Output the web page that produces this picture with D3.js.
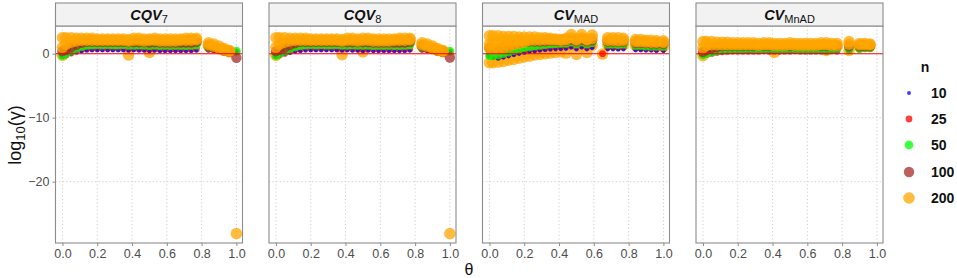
<!DOCTYPE html>
<html><head><meta charset="utf-8">
<script src="https://cdn.jsdelivr.net/npm/d3@7"></script>
<style>
body{margin:0;background:#fff;}
text{font-family:"Liberation Sans",Arial,sans-serif;}
</style></head>
<body><svg id="chart" width="957" height="278"></svg>
<script>
// ---- data ----
const thetas = [0, 0.02, 0.05, 0.08, 0.11, 0.14, 0.17, 0.2, 0.23, 0.26, 0.29, 0.32, 0.35, 0.38, 0.41, 0.44, 0.47, 0.5, 0.53, 0.56, 0.59, 0.62, 0.65, 0.68, 0.71, 0.74, 0.77, 0.8, 0.84, 0.87, 0.9, 0.93, 0.96, 1.0];
const nLevels = ["10", "25", "50", "100", "200"];
const xTicks = [0, 0.2, 0.4, 0.6, 0.8, 1.0];
const yTicks = [-20, -10, 0];

// CQV7
const cqv7_n200_hi  = [2.5, 2.5, 2.5, 2.4, 2.4, 2.4, 2.4, 2.3, 2.3, 2.3, 2.3, 2.3, 2.3, 2.2, 2.4, 2.4, 2.3, 2.3, 2.4, 2.3, 2.3, 2.3, 2.3, 2.3, 2.4, 2.4, 2.4, null, 1.7, 1.5, 1.2, 0.8, 0.5, null];
const cqv7_n200_mid = [1.0, 1.5, 1.8, 2.0, 2.1, 2.1, 2.1, 2.1, 2.1, 2.1, 2.1, 2.1, 2.1, 2.0, 2.1, 2.1, 2.0, 2.1, 2.1, 2.0, 2.0, 2.0, 2.0, 2.1, 2.1, 2.1, 2.2, null, 1.4, 1.2, 0.9, 0.6, 0.4, null];
const cqv7_n200_low = [-0.25, 0.5, 1.0, 1.4, 1.7, 1.9, 1.9, 1.9, 1.9, 1.9, 1.9, 1.9, 1.9, -0.2, 1.9, 1.8, 1.8, 0.2, 1.5, 1.8, 1.8, 1.8, 1.8, 1.8, 1.8, 1.8, 1.9, null, 1.2, 1.0, 0.8, 0.5, 0.3, -28.1];
const cqv7_n100 = [0.4, 0.6, 1.0, 1.4, 1.7, 1.85, 1.85, 1.85, 1.85, 1.85, 1.85, 1.85, 1.85, 1.8, 1.8, 1.8, 1.8, 1.75, 1.8, 1.75, 1.75, 1.75, 1.75, 1.75, 1.75, 1.75, 1.85, null, 1.2, 1.0, 0.8, 0.5, 0.3, -0.65];
const cqv7_n50  = [-0.3, 0.0, 0.4, 0.8, 1.1, 1.3, 1.35, 1.4, 1.35, 1.4, 1.35, 1.35, 1.4, 1.3, 1.3, 1.35, 1.3, 1.25, 1.3, 1.25, 1.3, 1.25, 1.3, 1.25, 1.25, 1.3, 1.35, null, 1.0, 0.9, 0.7, 0.5, 0.4, 0.4];
const cqv7_n25  = [-0.3, -0.2, 0.1, 0.4, 0.65, 0.75, 0.8, 0.8, 0.8, 0.8, 0.8, 0.8, 0.8, 0.75, 0.8, 0.75, 0.75, 0.7, 0.75, 0.7, 0.7, 0.7, 0.7, 0.7, 0.7, 0.7, 0.75, null, 0.7, 0.6, 0.5, 0.4, 0.3, 0.3];
const cqv7_n10  = [-0.3, -0.2, 0.0, 0.2, 0.35, 0.45, 0.5, 0.5, 0.5, 0.5, 0.5, 0.5, 0.5, 0.45, 0.5, 0.45, 0.45, 0.4, 0.45, 0.4, 0.4, 0.4, 0.4, 0.4, 0.4, 0.4, 0.45, null, 0.5, 0.45, 0.4, 0.35, 0.3, 0.3];

// CQV8
const cqv8_n200_hi  = [2.5, 2.5, 2.5, 2.4, 2.4, 2.4, 2.4, 2.3, 2.3, 2.3, 2.3, 2.3, 2.3, 2.2, 2.4, 2.4, 2.3, 2.4, 2.4, 2.3, 2.3, 2.3, 2.3, 2.3, 2.4, 2.4, 2.4, null, 1.7, 1.5, 1.2, 0.8, 0.5, null];
const cqv8_n200_mid = [1.0, 1.5, 1.8, 2.0, 2.1, 2.1, 2.1, 2.1, 2.1, 2.1, 2.1, 2.1, 2.1, 2.0, 2.1, 2.1, 2.0, 2.1, 2.1, 2.0, 2.0, 2.0, 2.0, 2.1, 2.1, 2.1, 2.2, null, 1.4, 1.2, 0.9, 0.6, 0.4, null];
const cqv8_n200_low = [-0.25, 0.5, 0.9, 1.3, 1.6, 1.9, 1.9, 1.9, 1.9, 1.9, 1.9, 1.9, 1.9, -0.15, 1.9, 1.8, 1.8, 0.3, 1.6, 1.8, 1.8, 1.8, 1.8, 1.8, 1.8, 1.8, 1.9, null, 1.2, 1.0, 0.8, 0.5, 0.3, -28.1];
const cqv8_n100 = [0.4, 0.6, 0.95, 1.35, 1.65, 1.85, 1.85, 1.85, 1.85, 1.85, 1.85, 1.85, 1.85, 1.8, 1.8, 1.8, 1.8, 1.8, 1.8, 1.75, 1.75, 1.75, 1.75, 1.75, 1.75, 1.75, 1.85, null, 1.2, 1.0, 0.8, 0.5, 0.3, -0.6];
const cqv8_n50  = [-0.3, 0.0, 0.35, 0.75, 1.05, 1.25, 1.35, 1.4, 1.35, 1.4, 1.35, 1.35, 1.4, 1.3, 1.3, 1.35, 1.3, 1.3, 1.3, 1.25, 1.3, 1.25, 1.3, 1.25, 1.25, 1.3, 1.35, null, 1.0, 0.9, 0.7, 0.5, 0.4, 0.4];
const cqv8_n25  = [-0.3, -0.2, 0.05, 0.35, 0.6, 0.7, 0.8, 0.8, 0.8, 0.8, 0.8, 0.8, 0.8, 0.75, 0.8, 0.75, 0.75, 0.7, 0.75, 0.7, 0.7, 0.7, 0.7, 0.7, 0.7, 0.7, 0.75, null, 0.7, 0.6, 0.5, 0.4, 0.3, 0.3];
const cqv8_n10  = [-0.3, -0.2, -0.05, 0.15, 0.3, 0.4, 0.45, 0.5, 0.5, 0.5, 0.5, 0.5, 0.5, 0.45, 0.5, 0.45, 0.45, 0.4, 0.45, 0.4, 0.4, 0.4, 0.4, 0.4, 0.4, 0.4, 0.45, null, 0.5, 0.45, 0.4, 0.35, 0.3, 0.3];

// CV_MAD
const cvmad_n200_hi   = [2.8, 2.8, 2.8, 2.7, 2.7, 2.7, 2.6, 2.6, 2.6, 2.6, 2.5, 2.5, 2.4, 2.3, 2.2, 2.4, 3.0, 2.3, 3.0, 2.3, 2.9, null, null, 2.5, 2.5, 2.5, 2.4, null, 2.2, 2.2, 2.1, 2.1, 2.0, 2.0];
const cvmad_n200_mid  = [1.5, 1.7, 1.9, 2.0, 2.05, 2.1, 2.1, 2.1, 2.1, 2.15, 2.15, 2.2, 2.2, 2.2, 2.15, 2.2, 2.5, 2.15, 2.5, 2.15, 2.4, null, null, 2.1, 2.1, 2.05, 2.1, null, 1.9, 1.9, 1.85, 1.8, 1.8, 1.75];
const cvmad_n200_low2 = [0.9, 0.7, 0.8, 1.0, 1.2, 1.45, 1.65, 1.85, null, null, null, null, null, null, null, null, null, null, null, null, null, null, null, null, null, null, null, null, null, null, null, null, null, null];
const cvmad_n200_low  = [-1.4, -1.4, -1.3, -1.2, -1.0, -0.9, -0.7, -0.5, -0.4, -0.2, -0.1, 0.0, 0.1, 0.2, 0.3, 0.1, 1.3, -0.1, 1.1, 0.2, 1.3, null, -0.05, 1.4, 1.4, 1.4, 1.4, null, 1.3, 1.3, 1.2, 1.2, 1.2, 1.1];
const cvmad_n100 = [0.9, 0.7, 0.8, 1.0, 1.2, 1.45, 1.65, 1.85, 1.9, 1.9, 1.9, 1.95, 2.0, 2.0, 2.0, 2.0, 2.2, 1.95, 2.2, 1.95, 2.1, null, null, 1.9, 1.9, 1.85, 1.9, null, 1.7, 1.7, 1.65, 1.6, 1.6, 1.55];
const cvmad_n50  = [-0.3, -0.3, -0.2, 0.0, 0.25, 0.5, 0.7, 0.9, 1.05, 1.2, 1.3, 1.4, 1.5, 1.55, 1.6, 1.6, 1.8, 1.5, 1.8, 1.5, 1.7, null, null, 1.45, 1.45, 1.4, 1.45, null, 1.25, 1.25, 1.2, 1.15, 1.15, 1.1];
const cvmad_n25  = [-0.3, -0.4, -0.5, -0.3, -0.1, 0.1, 0.3, 0.45, 0.6, 0.7, 0.8, 0.9, 0.95, 1.0, 1.05, 1.1, 1.3, 1.0, 1.3, 1.0, 1.2, null, 0.0, 1.0, 1.0, 0.95, 1.0, null, 0.85, 0.85, 0.8, 0.8, 0.75, 0.75];
const cvmad_n10  = [-0.3, -0.6, -0.8, -0.65, -0.45, -0.25, -0.05, 0.1, 0.25, 0.35, 0.45, 0.55, 0.6, 0.65, 0.7, 0.75, 0.95, 0.65, 0.95, 0.65, 0.85, null, null, 0.65, 0.65, 0.6, 0.65, null, 0.5, 0.5, 0.45, 0.45, 0.4, 0.4];

// CV_MnAD
const cvmnad_n200_hi  = [1.9, 1.9, 1.9, 1.8, 1.8, 1.8, 1.7, 1.7, 1.7, 1.7, 1.7, 1.6, 1.7, 1.7, 1.6, 1.6, 1.6, 1.7, 1.6, 1.6, 1.6, 1.6, 1.6, 1.7, 1.7, 1.6, 1.6, null, 1.9, null, 1.6, 1.6, 1.5, null];
const cvmnad_n200_mid = [0.9, 1.3, 1.4, 1.4, 1.4, 1.4, 1.4, 1.4, 1.4, 1.4, 1.4, 1.3, 1.4, 1.4, 1.3, 1.3, 1.3, 1.4, 1.3, 1.3, 1.3, 1.3, 1.3, 1.4, 1.4, 1.3, 1.3, null, 1.5, null, 1.4, 1.4, 1.4, null];
const cvmnad_n200_low = [-0.3, 0.3, 0.6, 0.9, 1.0, 1.1, 1.1, 1.15, 1.1, 1.1, 1.15, 1.1, 1.1, 1.1, 0.2, 1.1, 1.15, 1.1, 1.1, 1.15, 1.1, 1.1, 1.1, 1.0, 0.5, 1.1, 1.1, null, 0.5, null, 1.1, 1.2, 1.2, null];
const cvmnad_n100 = [0.3, 0.6, 0.85, 1.05, 1.2, 1.25, 1.25, 1.25, 1.25, 1.25, 1.25, 1.25, 1.25, 1.25, 1.25, 1.25, 1.25, 1.25, 1.25, 1.25, 1.25, 1.25, 1.25, 1.25, 1.25, 1.25, 1.25, null, 1.2, null, 1.2, 1.2, 1.2, null];
const cvmnad_n50  = [-0.2, 0.0, 0.25, 0.45, 0.6, 0.7, 0.75, 0.75, 0.75, 0.8, 0.75, 0.75, 0.75, 0.8, 0.75, 0.75, 0.75, 0.8, 0.75, 0.75, 0.75, 0.75, 0.75, 0.75, 0.75, 0.75, 0.8, null, 0.7, null, 0.8, 0.9, 0.9, null];
const cvmnad_n25  = [-0.2, -0.1, 0.05, 0.2, 0.3, 0.35, 0.4, 0.4, 0.4, 0.4, 0.4, 0.4, 0.45, 0.4, 0.4, 0.4, 0.4, 0.4, 0.45, 0.4, 0.4, 0.4, 0.4, 0.4, 0.4, 0.45, 0.4, null, 0.5, null, 0.7, 0.8, 0.8, null];
const cvmnad_n10  = [-0.15, -0.1, 0.0, 0.1, 0.2, 0.25, 0.3, 0.3, 0.3, 0.3, 0.3, 0.3, 0.3, 0.3, 0.3, 0.3, 0.3, 0.3, 0.3, 0.3, 0.3, 0.3, 0.3, 0.3, 0.3, 0.3, 0.3, null, 0.4, null, 0.6, 0.7, 0.7, null];

// draw order of series within each panel: [n, values]
const panels = [
  {main: "CQV", sub: "7", layers: [["200", cqv7_n200_low], ["25", cqv7_n25], ["10", cqv7_n10], ["50", cqv7_n50], ["100", cqv7_n100], ["200", cqv7_n200_mid], ["200", cqv7_n200_hi]]},
  {main: "CQV", sub: "8", layers: [["200", cqv8_n200_low], ["25", cqv8_n25], ["10", cqv8_n10], ["50", cqv8_n50], ["100", cqv8_n100], ["200", cqv8_n200_mid], ["200", cqv8_n200_hi]]},
  {main: "CV", sub: "MAD", layers: [["200", cvmad_n200_low], ["25", cvmad_n25], ["10", cvmad_n10], ["50", cvmad_n50], ["100", cvmad_n100], ["200", cvmad_n200_low2], ["200", cvmad_n200_mid], ["200", cvmad_n200_hi]]},
  {main: "CV", sub: "MnAD", layers: [["200", cvmnad_n200_low], ["25", cvmnad_n25], ["10", cvmnad_n10], ["50", cvmnad_n50], ["100", cvmnad_n100], ["200", cvmnad_n200_mid], ["200", cvmnad_n200_hi]]}
];

// ---- styles ----
const colors = {"10": "#0000FF", "25": "#FF0000", "50": "#00FF00", "100": "#A52A2A", "200": "#FFA500"};
const radius = d3.scaleOrdinal().domain(nLevels).range([2, 3.4, 4.4, 5.2, 5.8]);
const alpha = 0.75;

const svg = d3.select("#chart");
const panelW = 187, panelTop = 26, panelBot = 243, stripTop = 3;
const lefts = [55.5, 269, 482.5, 696];

const y = d3.scaleLinear().domain([-29.58, 4.33]).range([panelBot, panelTop]);

panels.forEach((p, pi) => {
  const L = lefts[pi];
  const x = d3.scaleLinear().domain([-0.04, 1.035]).range([L, L + panelW]);
  const g = svg.append("g");
  g.selectAll(".gx").data(xTicks).enter().append("line")
    .attr("x1", d => x(d)).attr("x2", d => x(d)).attr("y1", panelTop).attr("y2", panelBot)
    .attr("stroke", "#cfcfcf").attr("stroke-width", 1).attr("stroke-dasharray", "1.2,2.4");
  g.selectAll(".gy").data(yTicks).enter().append("line")
    .attr("x1", L).attr("x2", L + panelW).attr("y1", d => y(d)).attr("y2", d => y(d))
    .attr("stroke", "#cfcfcf").attr("stroke-width", 1).attr("stroke-dasharray", "1.2,2.4");
  const pts = [];
  p.layers.forEach(([n, arr]) => {
    arr.forEach((v, i) => { if (v !== null && v !== undefined) pts.push({t: thetas[i], v, n}); });
  });
  const clipId = "clip" + pi;
  svg.append("clipPath").attr("id", clipId).append("rect")
    .attr("x", L).attr("y", panelTop).attr("width", panelW).attr("height", panelBot - panelTop);
  g.append("g").attr("clip-path", `url(#${clipId})`).selectAll("circle").data(pts).enter().append("circle")
    .attr("cx", d => x(d.t)).attr("cy", d => y(d.v)).attr("r", d => radius(d.n))
    .attr("fill", d => colors[d.n]).attr("fill-opacity", alpha);
  g.append("line").attr("x1", L).attr("x2", L + panelW).attr("y1", y(0)).attr("y2", y(0))
    .attr("stroke", "#FF0000").attr("stroke-width", 1.1);
  g.append("rect").attr("x", L).attr("y", panelTop).attr("width", panelW).attr("height", panelBot - panelTop)
    .attr("fill", "none").attr("stroke", "#8c8c8c").attr("stroke-width", 1.1);
  g.append("rect").attr("x", L).attr("y", stripTop).attr("width", panelW).attr("height", panelTop - stripTop)
    .attr("fill", "#f2f2f2").attr("stroke", "#8c8c8c").attr("stroke-width", 1.1);
  const st = g.append("text").attr("x", L + panelW / 2).attr("y", 20).attr("text-anchor", "middle")
    .attr("fill", "#111").attr("font-size", 14.5);
  st.append("tspan").attr("font-weight", "bold").attr("font-style", "italic").text(p.main);
  st.append("tspan").attr("font-size", 11).attr("dy", 3).text(p.sub);
  const xa = g.append("g").attr("transform", `translate(0,${panelBot})`)
    .call(d3.axisBottom(x).tickValues(xTicks).tickFormat(d3.format(".1f")).tickSize(3).tickPadding(3));
  xa.select(".domain").remove();
  xa.selectAll("line").attr("stroke", "#8c8c8c");
  xa.selectAll("text").attr("font-size", 12.5).attr("fill", "#4d4d4d").attr("font-family", "Liberation Sans, Arial, sans-serif");
  if (pi === 0) {
    const ya = g.append("g").attr("transform", `translate(${L},0)`)
      .call(d3.axisLeft(y).tickValues(yTicks).tickFormat(d => d < 0 ? "\u2212" + Math.abs(d) : d).tickSize(3).tickPadding(3));
    ya.select(".domain").remove();
    ya.selectAll("line").attr("stroke", "#8c8c8c");
    ya.selectAll("text").attr("font-size", 12.5).attr("fill", "#4d4d4d").attr("font-family", "Liberation Sans, Arial, sans-serif");
  }
});

svg.append("text").attr("x", 469).attr("y", 275).attr("text-anchor", "middle").attr("font-size", 16).attr("fill", "#111").text("θ");
const yt = svg.append("text").attr("transform", "translate(21,135) rotate(-90)").attr("text-anchor", "middle")
  .attr("font-size", 18).attr("fill", "#111");
yt.append("tspan").text("log");
yt.append("tspan").attr("font-size", 13).attr("dy", 4).text("10");
yt.append("tspan").attr("dy", -4).text("(γ)");

svg.append("text").attr("x", 925).attr("y", 72).attr("text-anchor", "middle").attr("font-size", 14)
  .attr("font-weight", "bold").attr("fill", "#111").text("n");
const legY = [93, 119, 145, 172, 198];
const lg = svg.append("g");
nLevels.forEach((n, i) => {
  lg.append("circle").attr("cx", 909).attr("cy", legY[i]).attr("r", radius(n))
    .attr("fill", colors[n]).attr("fill-opacity", alpha);
  lg.append("text").attr("x", 931).attr("y", legY[i]).attr("dy", "0.36em").attr("font-size", 14)
    .attr("font-weight", "bold").attr("fill", "#111").text(n);
});
</script></body></html>
